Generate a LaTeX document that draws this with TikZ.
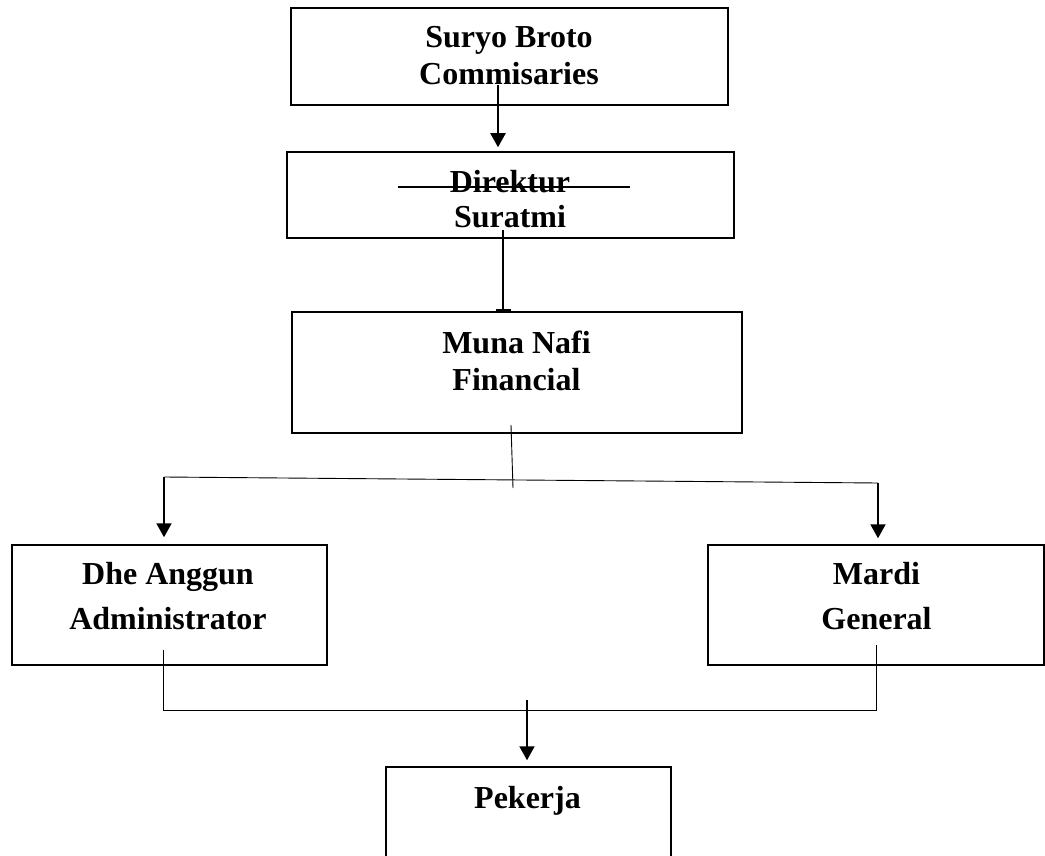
\documentclass[tikz,border=0pt]{standalone}
\usepackage{fontspec}
\setmainfont{Liberation Serif}
\usetikzlibrary{arrows.meta}
\tikzset{
  orgbox/.style={
    draw,
    line width=1.5pt,
    inner sep=0pt
  },
  namelbl/.style={
    align=center,
    inner sep=0pt,
    font=\fontsize{32}{37}\selectfont\bfseries
  },
  arrow/.style={-{Triangle[width=15pt,length=14pt]},line width=2pt},
  thinline/.style={line width=0.9pt}
}

\begin{document}
\begin{tikzpicture}[x=1pt,y=-1pt]
\useasboundingbox (0,0) rectangle (1045,856);

\node[orgbox,minimum width=437pt,minimum height=97pt] (suryo) at (509.5,56.5) {};
\node[orgbox,minimum width=447pt,minimum height=86pt] (direk) at (510.5,195) {};
\node[orgbox,minimum width=450pt,minimum height=121pt] (muna) at (517,372.5) {};
\node[orgbox,minimum width=315pt,minimum height=120pt] (anggun) at (169.5,605) {};
\node[orgbox,minimum width=336pt,minimum height=120pt] (mardi) at (876,605) {};
\node[orgbox,minimum width=285pt,minimum height=133pt] (pekerja) at (528.5,833.5) {};

\node[namelbl] (suryoT) at (509,55.5) {Suryo Broto\\Commisaries};
\node[namelbl] (direkT) at (510,199.5) {Direktur\\[-2pt]Suratmi};
\node[namelbl] (munaT) at (516.5,360.5) {Muna Nafi\\Financial};
\node[namelbl] (anggunT) at (168,596.5) {Dhe Anggun\\[8pt]Administrator};
\node[namelbl] (mardiT) at (876.5,596.5) {Mardi\\[8pt]General};
\node[namelbl] (pekerjaT) at (527.5,800.5) {Pekerja};

% line through Direktur
\draw[line width=1.5pt] (398,187) -- (630,187);

\coordinate (c1) at (498,85);
\coordinate (c2) at (503,230);
\coordinate (fin) at (511,425);
\coordinate (lbar) at (164,477);
\coordinate (rbar) at (878,483);
\coordinate (aout) at (163,650);
\coordinate (mout) at (876,645);
\coordinate (pin) at (527,700);

\draw[arrow,shorten >=4pt] (c1) -- (c1 |- direk.north);
\draw[line width=2pt,-{Bar[width=15pt]}] (c2) -- (c2 |- muna.north);

\draw[thinline] (fin) -- (513,488);
\draw[thinline] (lbar) -- (rbar);
\draw[arrow,shorten >=7pt] (lbar) -- (lbar |- anggun.north);
\draw[arrow,shorten >=6pt] (rbar) -- (rbar |- mardi.north);

\draw[thinline] (aout) -- ++(0,60) -| (mout);
\draw[arrow,shorten >=6pt] (pin) -- (pin |- pekerja.north);

\end{tikzpicture}
\end{document}
